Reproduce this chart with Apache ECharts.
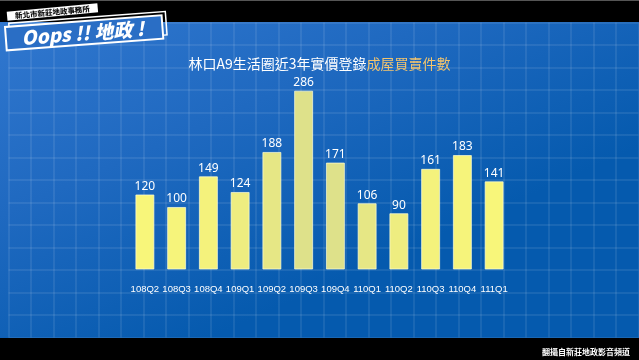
<!DOCTYPE html>
<html><head><meta charset="utf-8">
<script src="https://cdn.jsdelivr.net/npm/echarts@6/dist/echarts.min.js"></script>
<style>html,body{margin:0;padding:0;background:#000}#c{width:639px;height:360px}</style>
</head><body><div id="c"></div>
<script>
const categories = ['108Q2','108Q3','108Q4','109Q1','109Q2','109Q3','109Q4','110Q1','110Q2','110Q3','110Q4','111Q1'];
const values = [120,100,149,124,188,286,171,106,90,161,183,141];
const titleMain = '林口A9生活圈近3年實價登錄';
const titleHighlight = '成屋買賣件數';
const orgName = '新北市新莊地政事務所';
const logoText = 'Oops !! 地政 !';
const sourceText = '翻攝自新莊地政影音頻道';

const barPalette = ['#f8f67a','#f6f47b','#f4f27c','#eeed80','#e6e785','#dee18a','#dee18a','#e6e785','#eeed80','#f4f27c','#f6f47b','#f8f67a'];
const CJK = '"Noto Sans CJK TC","Noto Sans",sans-serif';

const chart = echarts.init(document.getElementById('c'), null, {renderer:'canvas'});
const deg = Math.PI/180;
chart.setOption({
  animation:false,
  backgroundColor: new echarts.graphic.LinearGradient(0,0,0.25,1,[
    {offset:0,color:'#3379d1'},{offset:0.5,color:'#1f69c0'},{offset:1,color:'#055aae'}]),
  title:{
    text:'{w|'+titleMain+'}{o|'+titleHighlight+'}',
    left:'center', top:52,
    textStyle:{rich:{
      w:{color:'#ffffff',fontSize:14,fontWeight:'normal',fontFamily:CJK},
      o:{color:'#f2c46e',fontSize:14,fontWeight:'normal',fontFamily:CJK}
    }}
  },
  grid:[
    {left:129,width:381,top:60,bottom:90.5},
    {left:8.5,right:0.5,top:22.5,bottom:22.5}
  ],
  xAxis:[
    {type:'category',data:categories,gridIndex:0,
     axisLine:{show:false},axisTick:{show:false},
     axisLabel:{color:'#ffffff',fontSize:9.5,margin:15,interval:0,fontFamily:'"Liberation Sans",Arial,sans-serif'}},
    {type:'value',gridIndex:1,min:0,max:28,interval:1,
     axisLine:{show:false},axisTick:{show:false},axisLabel:{show:false},
     splitLine:{show:true,lineStyle:{color:'rgba(255,255,255,0.11)',width:1.5}}}
  ],
  yAxis:[
    {type:'value',gridIndex:0,min:0,max:335,show:false,splitLine:{show:false}},
    {type:'value',gridIndex:1,min:0,max:14,interval:1,
     axisLine:{show:false},axisTick:{show:false},axisLabel:{show:false},
     splitLine:{show:true,lineStyle:{color:'rgba(255,255,255,0.11)',width:1.5}}}
  ],
  series:[{
    type:'bar',data:values,xAxisIndex:0,yAxisIndex:0,barWidth:19,z:5,
    itemStyle:{color:p=>barPalette[p.dataIndex],borderColor:'rgba(255,255,215,0.7)',borderWidth:1},
    label:{show:true,position:'top',distance:2,color:'#ffffff',fontSize:12,fontFamily:'"Noto Sans",sans-serif'}
  }],
  graphic:[
    {type:'rect',z:100,shape:{x:0,y:0,width:639,height:22},style:{fill:'#000000'}},
    {type:'rect',z:100,shape:{x:0,y:338,width:639,height:22},style:{fill:'#000000'}},
    {type:'rect',z:101,shape:{x:0,y:0,width:639,height:1},style:{fill:'#555555'}},
    {type:'text',z:102,right:9,top:348,style:{text:sourceText,fill:'#ffffff',font:'bold 8px '+CJK}},
    {type:'group',z:110,x:6.7,y:11.7,rotation:5.3*deg,children:[
      {type:'rect',z:110,shape:{x:0,y:0,width:91,height:9},style:{fill:'#ffffff'}},
      {type:'text',z:111,x:45.5,y:4.8,style:{text:orgName,fill:'#111111',font:'900 7.5px '+CJK,align:'center',verticalAlign:'middle'}}
    ]},
    {type:'group',z:110,x:5,y:27,rotation:4.3*deg,children:[
      {type:'rect',z:110,shape:{x:4,y:-3.5,width:157,height:23.5},style:{fill:'none',stroke:'#ffffff',lineWidth:1.5}},
      {type:'rect',z:111,shape:{x:0,y:0,width:157,height:23.5},style:{fill:'#2a6ec5',stroke:'#ffffff',lineWidth:2}},
      {type:'text',z:112,x:77,y:12,style:{text:logoText,fill:'#ffffff',font:'italic 900 19px '+CJK,align:'center',verticalAlign:'middle'}}
    ]}
  ]
});
</script></body></html>
